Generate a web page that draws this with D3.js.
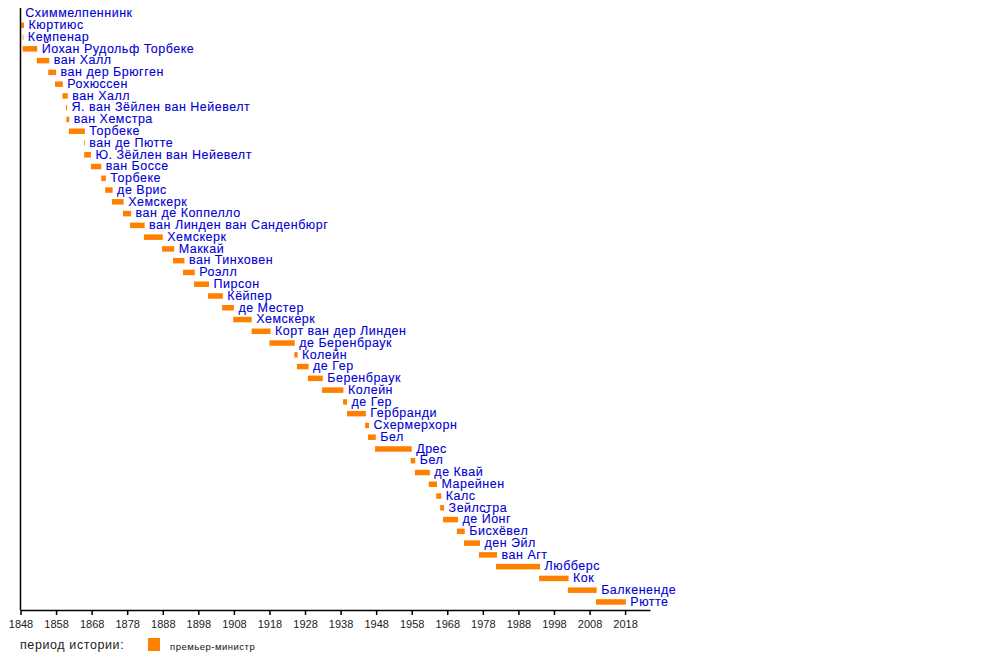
<!DOCTYPE html>
<html><head><meta charset="utf-8">
<script src="https://cdn.jsdelivr.net/npm/d3@7"></script>
<style>body{margin:0;background:#fff}svg{display:block}</style>
</head><body>
<script>
const names = ["Схиммелпеннинк","Кюртиюс","Кемпенар","Йохан Рудольф Торбеке","ван Халл","ван дер Брюгген","Рохюссен","ван Халл","Я. ван Зёйлен ван Нейевелт","ван Хемстра","Торбеке","ван де Пютте","Ю. Зёйлен ван Нейевелт","ван Боссе","Торбеке","де Врис","Хемскерк","ван де Коппелло","ван Линден ван Санденбюрг","Хемскерк","Маккай","ван Тинховен","Роэлл","Пирсон","Кёйпер","де Местер","Хемскерк","Корт ван дер Линден","де Беренбраук","Колейн","де Гер","Беренбраук","Колейн","де Гер","Гербранди","Схермерхорн","Бел","Дрес","Бел","де Квай","Марейнен","Калс","Зейлстра","де Йонг","Бисхёвел","ден Эйл","ван Агт","Любберс","Кок","Балкененде","Рютте"];
const starts = [1848.0,1848.1,1848.6,1848.6,1852.6,1855.8,1857.7,1859.8,1860.8,1860.9,1861.6,1865.9,1865.9,1867.8,1870.7,1871.8,1873.7,1876.8,1878.8,1882.7,1887.8,1890.9,1893.7,1896.8,1900.7,1904.7,1907.8,1913.0,1918.0,1925.0,1925.7,1928.8,1932.8,1938.7,1939.8,1944.9,1945.7,1947.7,1957.7,1958.9,1962.8,1964.9,1966.0,1966.8,1970.7,1972.7,1976.9,1981.7,1993.8,2001.9,2009.8];
const ends = [1848.1,1849.0,1848.8,1852.7,1856.1,1858.0,1859.9,1861.3,1861.1,1861.7,1866.1,1866.1,1867.8,1870.7,1872.0,1873.9,1877.0,1879.1,1882.9,1888.0,1891.2,1894.1,1897.0,1901.0,1904.9,1908.0,1913.0,1918.3,1925.1,1925.9,1929.0,1933.0,1938.8,1939.8,1945.1,1946.0,1947.9,1958.0,1959.0,1963.1,1965.1,1966.3,1967.1,1971.0,1972.9,1977.2,1982.0,1994.1,2002.1,2010.0,2018.2];
const tickYears = [1848,1858,1868,1878,1888,1898,1908,1918,1928,1938,1948,1958,1968,1978,1988,1998,2008,2018];
const legendTitle = "период истории:";
const legendItems = ["премьер-министр"];

const W = 1000, H = 660;
const svg = d3.select("body").append("svg").attr("width", W).attr("height", H)
  .style("font-family", "'Liberation Sans', Arial, sans-serif");

const x = d3.scaleLinear().domain([1848, 2025]).range([20.5, 650]);
const y = d3.scaleLinear().domain([0, names.length - 1]).range([12.8, 601.2]);
const barColor = "#ff8000";
const textColor = "#0000d4";

// bars
svg.append("g").selectAll("rect").data(names).join("rect")
  .attr("x", (d, i) => x(starts[i]))
  .attr("width", (d, i) => Math.max(0, x(ends[i]) - x(starts[i])))
  .attr("y", (d, i) => y(i) - 2)
  .attr("height", 5.5)
  .attr("fill", barColor);

// labels
svg.append("g").selectAll("text").data(names).join("text")
  .attr("x", (d, i) => x(ends[i]) + 4.5)
  .attr("y", (d, i) => y(i) + 4.5)
  .attr("font-size", 12.5)
  .attr("letter-spacing", 0.5)
  .attr("fill", textColor)
  .attr("stroke", textColor)
  .attr("stroke-width", 0.1)
  .text(d => d);

// axes
const axis = d3.axisBottom(x).tickValues(tickYears).tickFormat(d3.format("d"))
  .tickSize(5).tickSizeOuter(0).tickPadding(5);
const gx = svg.append("g").attr("transform", "translate(0,610)").call(axis);
gx.select(".domain").attr("stroke", "#000").attr("stroke-width", 1.5);
gx.selectAll(".tick line").attr("stroke", "#000").attr("stroke-width", 1.5);
gx.selectAll(".tick text").attr("font-size", 11).attr("fill", "#222")
  .attr("font-family", "'Liberation Sans', Arial, sans-serif");

svg.append("line").attr("x1", x(1848)).attr("x2", x(1848)).attr("y1", 8).attr("y2", 610)
  .attr("stroke", "#000").attr("stroke-width", 1.5);

// legend
svg.append("text").attr("x", 20).attr("y", 649).attr("font-size", 12.5)
  .attr("letter-spacing", 0.6).attr("fill", "#222").text(legendTitle);
svg.append("rect").attr("x", 148).attr("y", 638).attr("width", 12).attr("height", 13).attr("fill", barColor);
svg.append("text").attr("x", 170).attr("y", 650).attr("font-size", 9.5)
  .attr("letter-spacing", 0.5).attr("fill", "#111").text(legendItems[0]);
</script>
</body></html>
